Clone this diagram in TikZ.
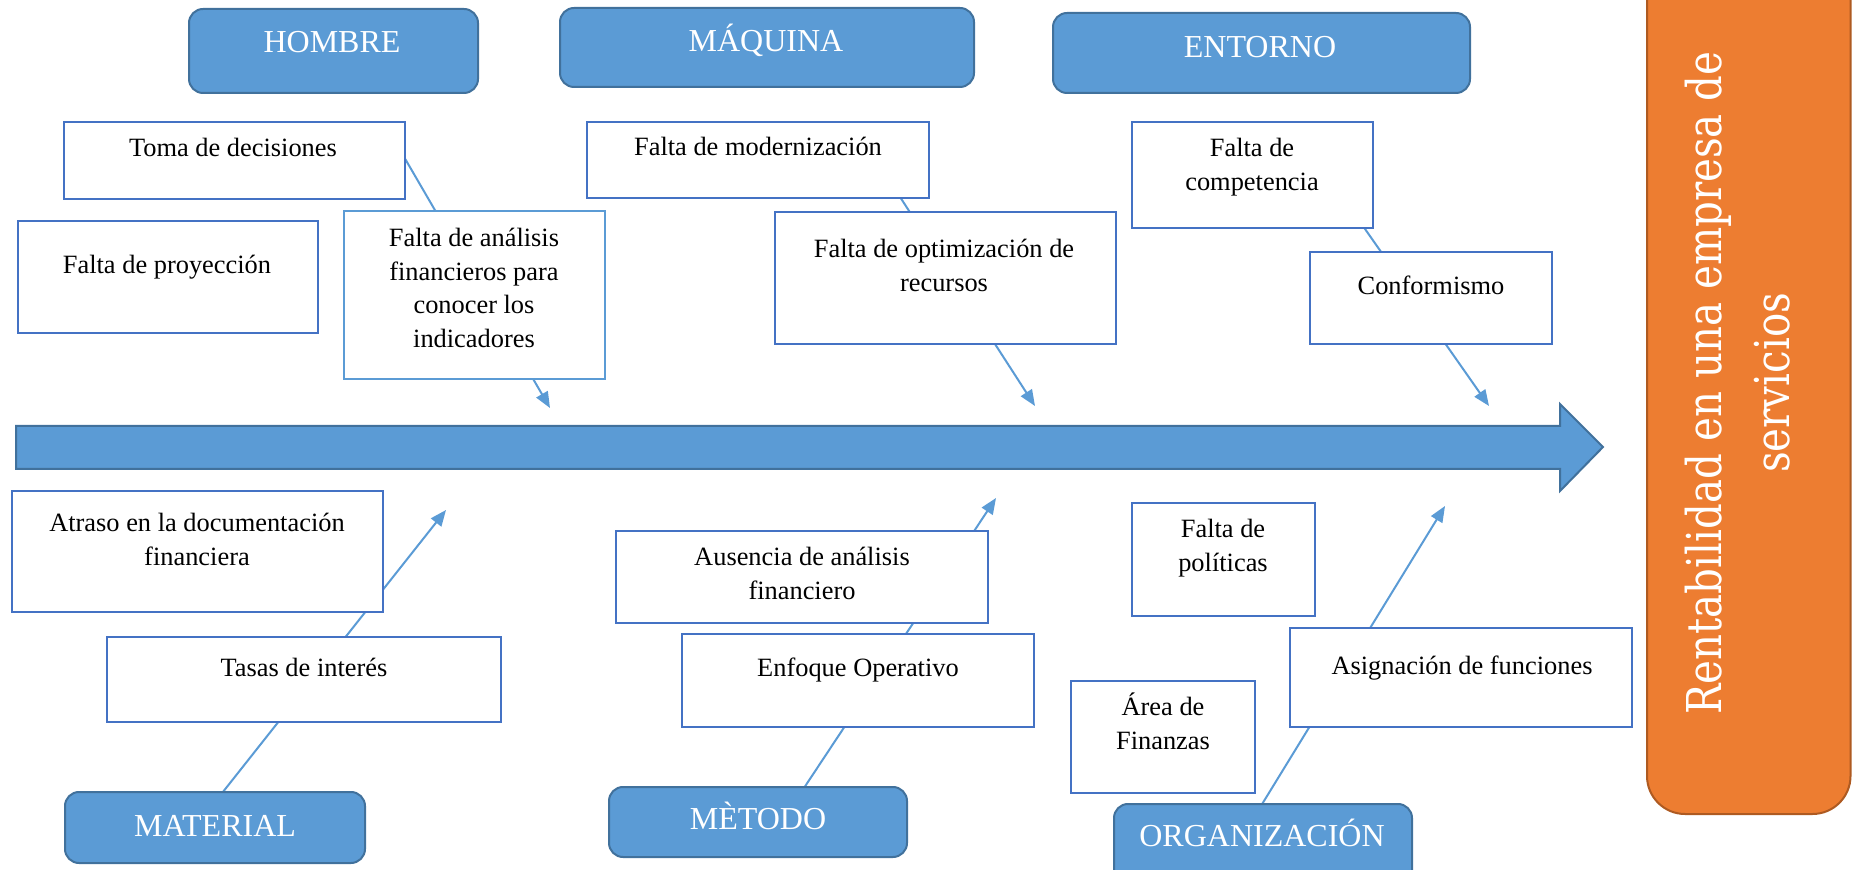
\documentclass[tikz,border=0pt]{standalone}
\usepackage{fontspec}
\setmainfont{Liberation Serif}
\newfontfamily\vfont[FakeStretch=0.84]{DejaVu Serif}
\usetikzlibrary{fit,arrows.meta}
\definecolor{hdrfill}{HTML}{5B9BD5}
\definecolor{hdrdraw}{HTML}{41719C}
\definecolor{causedraw}{HTML}{4472C4}
\definecolor{lightdraw}{HTML}{5B9BD5}
\definecolor{linec}{HTML}{5B9BD5}
\definecolor{ofill}{HTML}{ED7D31}
\definecolor{odraw}{HTML}{AE5A21}
\newcommand\ml[1]{\begin{tabular}[t]{@{}c@{}}#1\end{tabular}}
\tikzset{
  hdr/.style={draw=hdrdraw, line width=1pt, fill=hdrfill, rounded corners=7pt, inner sep=0pt},
  cbox/.style={draw=causedraw, line width=1.2pt, fill=white, inner sep=0pt},
  lbox/.style={cbox, draw=lightdraw},
  obox/.style={draw=odraw, line width=1pt, fill=ofill, rounded corners=19pt, inner sep=0pt},
  htext/.style={text=white, font=\fontsize{16}{19}\selectfont, anchor=base, inner sep=0pt},
  ctext/.style={font=\fontsize{13.2}{16.75}\selectfont, anchor=base, inner sep=0pt},
  vtext/.style={text=white, font=\vfont\fontsize{24}{34}\selectfont, anchor=base, inner sep=0pt},
  bone/.style={draw=linec, line width=1pt, -{Triangle[length=8pt,width=6.5pt]}},
  fisharrow/.style={draw=hdrdraw, line width=1pt, fill=hdrfill},
}
\begin{document}
\begin{tikzpicture}[x=0.5pt,y=-0.5pt]
\useasboundingbox (0,0) rectangle (1852,870);
\clip (0,0) rectangle (1852,870);

% connector coordinates
\coordinate (s1) at (393,138);   \coordinate (e1) at (550,408);
\coordinate (s2) at (891,183);   \coordinate (e2) at (1035,406);
\coordinate (s3) at (1354.5,214);\coordinate (e3) at (1489,406);
\coordinate (s4) at (215,802);   \coordinate (e4) at (446,510);
\coordinate (s5) at (798,797);   \coordinate (e5) at (996,498);
\coordinate (s6) at (1256,814);  \coordinate (e6) at (1445,506);

\draw[bone] (s1) -- (e1);
\draw[bone] (s2) -- (e2);
\draw[bone] (s3) -- (e3);
\draw[bone] (s4) -- (e4);
\draw[bone] (s5) -- (e5);
\draw[bone] (s6) -- (e6);

% main arrow
\draw[fisharrow] (16,426) -- (1560,426) -- (1560,404) -- (1603,447) -- (1560,491) -- (1560,469) -- (16,469) -- cycle;

% result box
\node[obox, fit={(1647,-60) (1850.5,814)}] (res) {};
\node[vtext, rotate=90] (rest) at (1721,383) {\ml{Rentabilidad en una empresa de\\servicios}};

% headers
\node[hdr, fit={(189,9) (478,93)}] (hombre) {};
\node[htext] (hombret) at (332,53) {HOMBRE};
\node[hdr, fit={(560,8) (974,87)}] (maquina) {};
\node[htext] (maquinat) at (766,52) {MÁQUINA};
\node[hdr, fit={(1053,13) (1470,93)}] (entorno) {};
\node[htext] (entornot) at (1260,58) {ENTORNO};
\node[hdr, fit={(65,792) (365,863)}] (material) {};
\node[htext] (materialt) at (215,836) {MATERIAL};
\node[hdr, fit={(609,787) (907,857)}] (metodo) {};
\node[htext] (metodot) at (758,829) {MÈTODO};
\node[hdr, fit={(1114,804) (1412,890)}] (org) {};
\node[htext] (orgt) at (1262,846) {ORGANIZACIÓN};

% cause boxes
\node[cbox, fit={(64,122) (405,199)}] (toma) {};
\node[ctext] (tomat) at (233,157) {Toma de decisiones};
\node[cbox, fit={(18,221) (318,333)}] (proy) {};
\node[ctext] (proyt) at (167,274) {Falta de proyección};
\node[lbox, fit={(344,211) (605,379)}] (anal) {};
\node[ctext] (analt) at (474,247) {\ml{Falta de análisis\\financieros para\\conocer los\\indicadores}};
\node[cbox, fit={(587,122) (929,198)}] (mod) {};
\node[ctext] (modt) at (758,156) {Falta de modernización};
\node[cbox, fit={(775,212) (1116,344)}] (opt) {};
\node[ctext] (optt) at (944,258) {\ml{Falta de optimización de\\recursos}};
\node[cbox, fit={(1132,122) (1373,228)}] (comp) {};
\node[ctext] (compt) at (1252,157) {\ml{Falta de\\competencia}};
\node[cbox, fit={(1310,252) (1552,344)}] (conf) {};
\node[ctext] (conft) at (1431,295) {Conformismo};
\node[cbox, fit={(12,491) (383,612)}] (atr) {};
\node[ctext] (atrt) at (197,532) {\ml{Atraso en la documentación\\financiera}};
\node[cbox, fit={(107,637) (501,722)}] (tasa) {};
\node[ctext] (tasat) at (304,677) {Tasas de interés};
\node[cbox, fit={(616,531) (988,623)}] (aus) {};
\node[ctext] (aust) at (802,566) {\ml{Ausencia de análisis\\financiero}};
\node[cbox, fit={(682,634) (1034,727)}] (enf) {};
\node[ctext] (enft) at (858,677) {Enfoque Operativo};
\node[cbox, fit={(1132,503) (1315,616)}] (pol) {};
\node[ctext] (polt) at (1223,538) {\ml{Falta de\\políticas}};
\node[cbox, fit={(1071,681) (1255,793)}] (area) {};
\node[ctext] (areat) at (1163,716) {\ml{Área de\\Finanzas}};
\node[cbox, fit={(1290,628) (1632,727)}] (asig) {};
\node[ctext] (asigt) at (1462,675) {Asignación de funciones};
\end{tikzpicture}
\end{document}
